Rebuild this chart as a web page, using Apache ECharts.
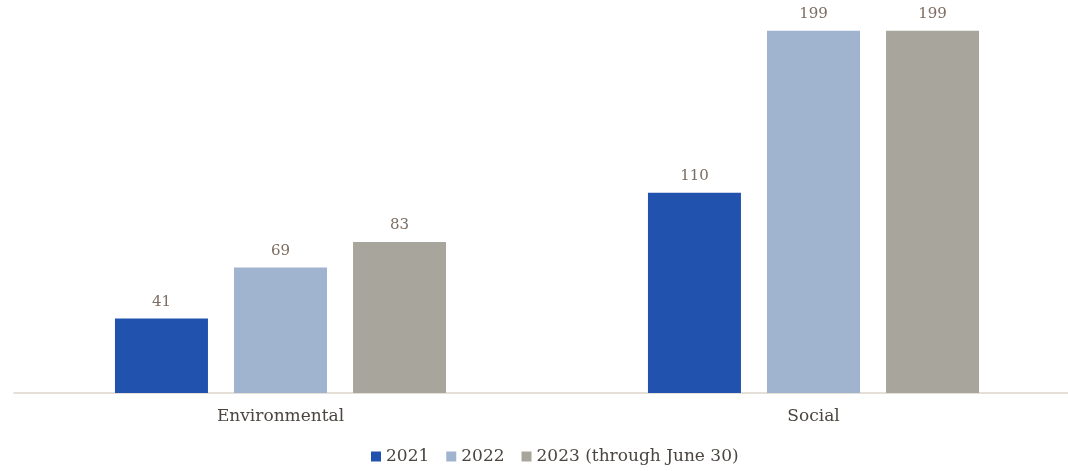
<!DOCTYPE html>
<html><head><meta charset="utf-8">
<script src="https://cdn.jsdelivr.net/npm/echarts@6/dist/echarts.min.js"></script>
<style>html,body{margin:0;padding:0;background:#fff;overflow:hidden}#c{width:1080px;height:471px}</style>
</head><body><div id="c"></div>
<script>
const categories = ["Environmental", "Social"];
const seriesNames = ["2021", "2022", "2023 (through June 30)"];
const values2021 = [41, 110];
const values2022 = [69, 199];
const values2023 = [83, 199];
const colors = ["#2152ad", "#a1b4cf", "#a8a69c"];
const font = "'DejaVu Serif', 'Liberation Serif', serif";
const chart = echarts.init(document.getElementById('c'));
const mk = (name, data, color) => ({
  name, type: 'bar', data, barWidth: 93, barGap: '28%',
  itemStyle: { color },
  label: { show: true, position: 'top', distance: 9, color: '#7d6c60', fontFamily: font, fontSize: 15 }
});
chart.setOption({
  animation: false,
  grid: { left: 14, width: 1066, top: 29, bottom: 78 },
  legend: {
    bottom: 1, left: 366, itemWidth: 10, itemHeight: 10, itemGap: 17,
    icon: 'rect',
    textStyle: { fontFamily: font, fontSize: 17, color: '#4a4540' },
    data: seriesNames
  },
  xAxis: {
    type: 'category', data: categories,
    axisLine: { lineStyle: { color: '#ddd5cb', width: 1.5 } },
    axisTick: { show: false },
    axisLabel: { fontFamily: font, fontSize: 17, color: '#4a4540', margin: 15 }
  },
  yAxis: { type: 'value', min: 0, max: 200, show: false, splitLine: { show: false } },
  series: [mk(seriesNames[0], values2021, colors[0]), mk(seriesNames[1], values2022, colors[1]), mk(seriesNames[2], values2023, colors[2])]
});
</script></body></html>
